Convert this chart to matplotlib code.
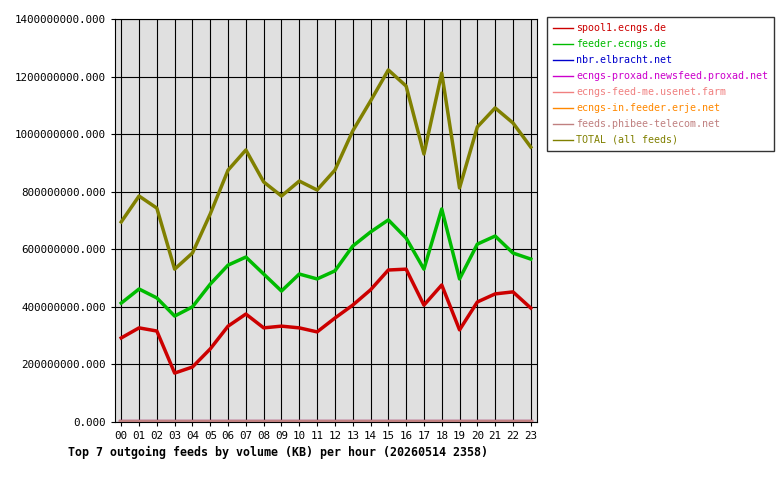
import matplotlib
matplotlib.use("Agg")
import matplotlib.pyplot as plt
from matplotlib.ticker import FuncFormatter

hours = [f"{h:02d}" for h in range(24)]
spool1 = [292,327,316,170,191,254,333,375,327,333,327,313,361,406,459,528,531,406,476,320,417,445,452,396]
feeder = [413,462,431,368,400,479,545,573,514,455,514,497,525,611,660,702,639,531,740,497,618,646,587,566]
total = [695,785,743,531,587,723,875,945,834,785,837,806,875,1011,1115,1223,1167,931,1212,813,1025,1091,1039,955]
zeros = [0]*24

series = [
    ("spool1.ecngs.de", [v*1e6 for v in spool1], "#cc0000"),
    ("feeder.ecngs.de", [v*1e6 for v in feeder], "#00bb00"),
    ("nbr.elbracht.net", zeros, "#0000cc"),
    ("ecngs-proxad.newsfeed.proxad.net", zeros, "#cc00cc"),
    ("ecngs-feed-me.usenet.farm", zeros, "#f08080"),
    ("ecngs-in.feeder.erje.net", zeros, "#ff8800"),
    ("feeds.phibee-telecom.net", zeros, "#c08080"),
    ("TOTAL (all feeds)", [v*1e6 for v in total], "#808000"),
]

plt.rcParams['font.family'] = ['DejaVu Sans Mono']
fig = plt.figure(figsize=(7.8, 4.8), dpi=100)
ax = fig.add_axes([115/780, 58/480, 422/780, 403/480])
ax.set_facecolor("#e0e0e0")
x = list(range(24))
handles = []
for name, vals, col in series:
    h, = ax.plot(x, vals, color=col, lw=2.5 if max(vals) > 0 else 3, label=name, zorder=3)
    handles.append(h)
ax.set_xlim(-0.35, 23.35)
ax.set_ylim(0, 1.4e9)
ax.set_xticks(x)
ax.set_xticklabels(hours, fontsize=7.8)
ax.set_yticks([i*2e8 for i in range(8)])
ax.yaxis.set_major_formatter(FuncFormatter(lambda v, p: f"{v:.3f}"))
ax.tick_params(labelsize=7.8, length=3)
ax.grid(True, color="black", lw=0.8, zorder=1)
ax.set_axisbelow(True)
fig.text(68/780, 1-452/480, "Top 7 outgoing feeds by volume (KB) per hour (20260514 2358)",
         fontsize=8.4, fontweight="bold", va="center")
leg = fig.legend(handles=handles, loc="upper left", bbox_to_anchor=(547/780, 1-17/480),
                 borderaxespad=0,
                 fontsize=7.2, frameon=True, fancybox=False, edgecolor="black",
                 handlelength=2.0, handletextpad=0.3, labelspacing=0.6, borderpad=0.6)
for t, (_, _, c) in zip(leg.get_texts(), series):
    t.set_color(c)
for l in leg.get_lines():
    l.set_linewidth(1)
fig.savefig("out.png", dpi=100, facecolor="white")
